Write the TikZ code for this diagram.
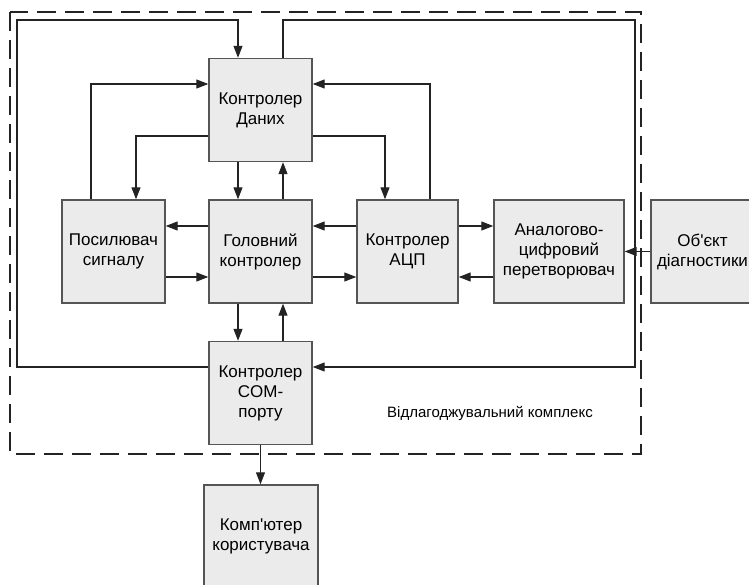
\documentclass[tikz,border=0pt]{standalone}
\usepackage{fontspec}
\setmainfont{Liberation Sans}[Ligatures=TeXOff]
\usetikzlibrary{positioning}
\usetikzlibrary{arrows.meta}
\definecolor{boxfill}{RGB}{235,235,235}
\definecolor{boxline}{RGB}{85,85,85}
\definecolor{wire}{RGB}{35,35,35}
\tikzstyle{block}=[rectangle,fill=boxfill,draw=boxline,line width=1.4pt,minimum height=103pt,inner sep=0pt,align=center,font=\fontsize{17}{20}\selectfont]
\tikzstyle{edge} = [draw,line width=1.1pt,wire,-{Triangle[length=12pt,width=9pt]}]
\tikzstyle{frame} = [draw=wire,line width=1.4pt,dash pattern=on 19pt off 9pt]
\tikzstyle{caption} = [font=\fontsize{15}{18}\selectfont]

\begin{document}
\begin{tikzpicture}[x=1pt,y=-1pt]
    \useasboundingbox (0,0) rectangle (749,585);

    % dashed border of the debugging complex
    \draw[frame] (10,12) rectangle (641,454);
    \node[caption] (cap) at (490,413) {Відлагоджувальний комплекс};

    % First we draw the blocks
    \foreach \pos/\name/\bw/\label in {{(260.5,110)/data/103/{Контролер\\Даних}}, {(113.5,251.5)/amp/103/{Посилювач\\сигналу}}, {(260.5,251.5)/main/103/{Головний\\контролер}}, {(407.5,251.5)/adcc/101/{Контролер\\АЦП}}, {(559,251.5)/adc/130/{Аналогово-\\цифровий\\перетворювач}}, {(702.5,251.5)/obj/103/{Об'єкт\\діагностики}}, {(260.5,393)/com/103/{Контролер\\COM-\\порту}}, {(261,536.5)/pc/114/{Комп'ютер\\користувача}}}
        \node[block,minimum width=\bw pt] (\name) at \pos {\label};

    % corners of the outer bus
    \coordinate (tl) at (17,20);
    \coordinate (tr) at (635,20);

    % Connect blocks with arrows
    \draw[edge] ([xshift=-22.5pt]amp.north) |- ([yshift=26pt]data.west);
    \draw[edge] ([yshift=-26pt]data.west) -| ([xshift=22.5pt]amp.north);
    \draw[edge] ([xshift=22.5pt]adcc.north) |- ([yshift=26pt]data.east);
    \draw[edge] ([yshift=-26pt]data.east) -| ([xshift=-22.5pt]adcc.north);
  \foreach \source/ \dest in {data/main, main/com}
          \draw[edge] ([xshift=-22.5pt]\source.south) -- ([xshift=-22.5pt]\dest.north);
  \foreach \source/ \dest in {main/data, com/main}
          \draw[edge] ([xshift=22.5pt]\source.north) -- ([xshift=22.5pt]\dest.south);
  \foreach \source/ \dest in {main/amp, adcc/main}
          \draw[edge] ([yshift=25.5pt]\source.west) -- ([yshift=25.5pt]\dest.east);
  \foreach \source/ \dest in {amp/main, main/adcc}
          \draw[edge] ([yshift=-25.5pt]\source.east) -- ([yshift=-25.5pt]\dest.west);
    \draw[edge] ([yshift=25.5pt]adcc.east) -- ([yshift=25.5pt]adc.west);
    \draw[edge] ([yshift=-25.5pt]adc.west) -- ([yshift=-25.5pt]adcc.east);
    \draw[edge] (obj.west) -- (adc.east);

    % outer bus round the blocks
    \draw[edge] ([yshift=26pt]com.west) -| (tl) -| ([xshift=-22.5pt]data.north);
    \draw[edge] ([xshift=22.5pt]data.north) |- (tr) |- ([yshift=26pt]com.east);

    \draw[edge] (com.south) -- (com.south |- pc.north);

\end{tikzpicture}
\end{document}
